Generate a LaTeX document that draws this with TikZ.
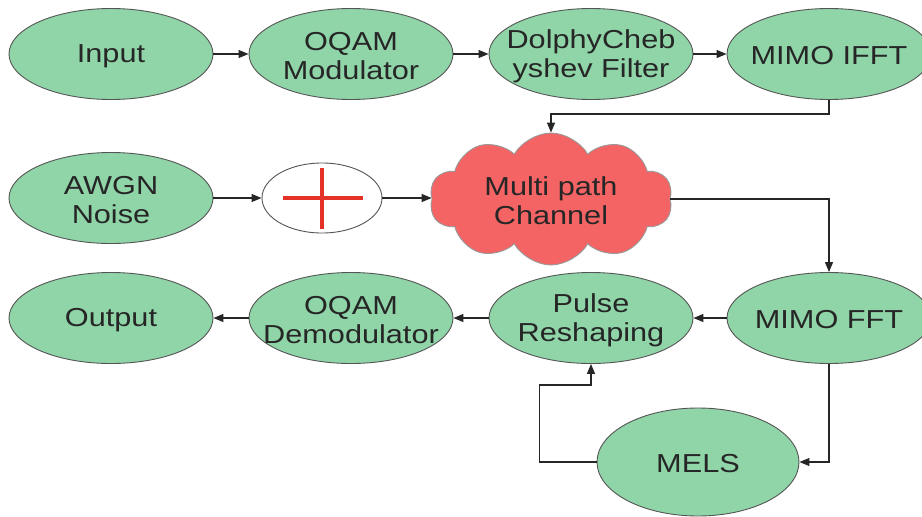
\documentclass[tikz,border=0pt]{standalone}
\usepackage{fontspec}
\setmainfont[FakeStretch=1.18]{Liberation Sans}
\usetikzlibrary{shapes.geometric,shapes.symbols,arrows.meta}
\definecolor{blkgreen}{RGB}{143,213,168}
\definecolor{cloudred}{RGB}{244,100,100}
\definecolor{plusred}{RGB}{228,50,40}
\definecolor{edgegray}{RGB}{85,85,85}
\tikzset{
  blk/.style={ellipse, draw=edgegray, line width=0.9pt, fill=blkgreen, minimum width=204pt, minimum height=91pt, inner sep=0pt},
  txt/.style={align=center, inner sep=0pt, yshift=-2pt, font=\fontsize{26pt}{29pt}\selectfont, text=black!85},
  arr/.style={draw=black!85, line width=1.2pt, -{Triangle[length=10pt,width=8pt]}},
}
\begin{document}
\begin{tikzpicture}[x=1pt,y=-1pt]
\useasboundingbox (0,0) rectangle (922,517);
\clip (0,0) rectangle (922,517);
\fill[white] (0,0) rectangle (922,517);
% row 1
\node[blk] (inp) at (111,54) {};
\node[txt] (tinp) at (inp.center) {Input};
\node[blk] (mod) at (351,54) {};
\node[txt] (tmod) at (mod.center) {OQAM\\Modulator};
\node[blk] (dol) at (591,54) {};
\node[txt] (tdol) at (dol.center) {DolphyCheb\\yshev Filter};
\node[blk] (ifft) at (829,54) {};
\node[txt] (tifft) at (ifft.center) {MIMO IFFT};
% row 2
\node[blk] (awgn) at (111,198) {};
\node[txt] (tawgn) at (awgn.center) {AWGN\\Noise};
\node[ellipse, draw=edgegray, line width=0.9pt, fill=white, minimum width=120pt, minimum height=70pt, inner sep=0pt] (sum) at (322,198) {};
\draw[plusred, line width=4.5pt] ([xshift=-39pt]sum.center) -- ([xshift=41pt]sum.center);
\draw[plusred, line width=4.5pt] ([yshift=30pt]sum.center) -- ([yshift=-31pt]sum.center);
\node[cloud, cloud puffs=10, cloud puff arc=120, aspect=1.8, draw=gray!80, line width=0.9pt, fill=cloudred, minimum width=243pt, minimum height=132pt, inner sep=0pt] (ch) at (551,199) {};
\node[txt] (tch) at (551,199) {Multi path\\Channel};
% row 3
\node[blk] (out) at (111,318) {};
\node[txt] (tout) at (out.center) {Output};
\node[blk] (dem) at (351,318) {};
\node[txt] (tdem) at (dem.center) {OQAM\\Demodulator};
\node[blk] (pul) at (591,318) {};
\node[txt] (tpul) at (pul.center) {Pulse\\Reshaping};
\node[blk] (fft) at (829,318) {};
\node[txt] (tfft) at (fft.center) {MIMO FFT};
\node[blk, minimum width=202pt, minimum height=108pt] (mels) at (698,462) {};
\node[txt] (tmels) at (mels.center) {MELS};
% connectors
\draw[arr] (inp) -- (mod);
\draw[arr] (mod) -- (dol);
\draw[arr] (dol) -- (ifft);
\draw[arr] (ifft.south) -- ++(0,14) -| (ch.north);
\draw[arr] (awgn) -- (sum);
\draw[arr] (sum.east) -- (sum.east -| ch.west);
\draw[arr] (ch.east) -| (fft.north);
\draw[arr] (fft) -- (pul);
\draw[arr] (pul) -- (dem);
\draw[arr] (dem) -- (out);
\draw[arr] (fft.south) |- (mels.east);
\draw[arr] (mels.west) -- ++(-57,0) |- ([yshift=-21pt]pul.south) -- (pul.south);
\end{tikzpicture}
\end{document}
